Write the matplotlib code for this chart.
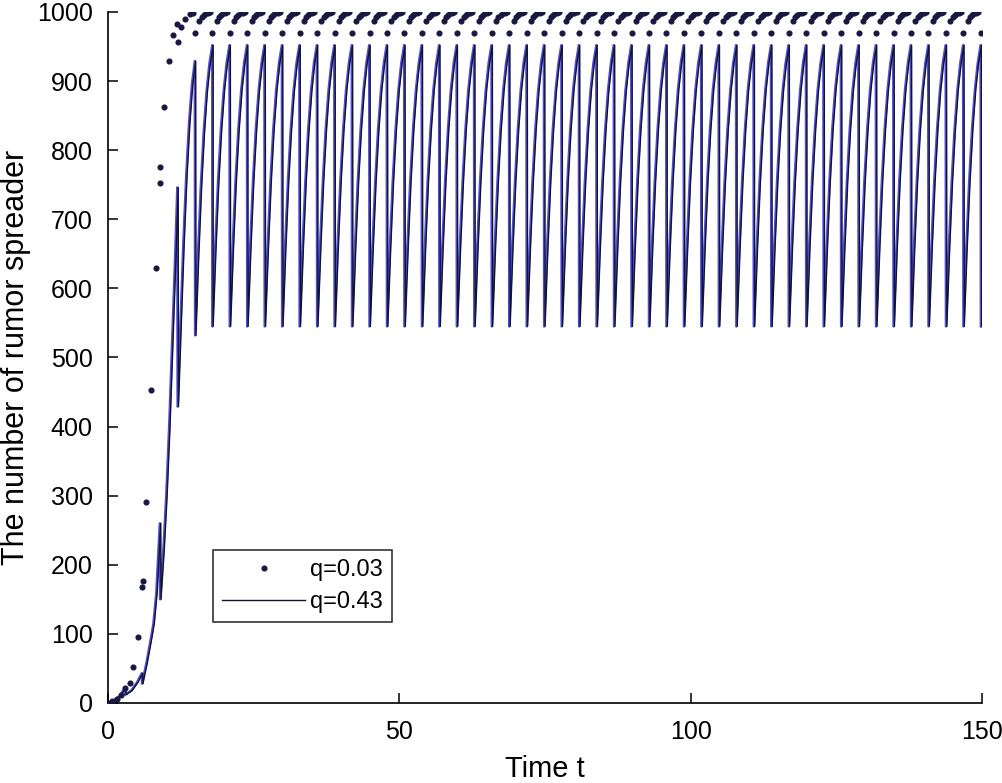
import numpy as np
import matplotlib
matplotlib.use("Agg")
import matplotlib.pyplot as plt
from matplotlib import font_manager

# ---------------- data ----------------
# q = 0.43 : early growth phase (time, value), including impulsive drops
line_early_t = [0.0, 1.0, 2.0, 2.9, 2.95, 4.0, 5.0, 5.8, 5.85, 6.6, 7.4, 7.8, 8.3, 8.6, 8.9, 8.95,
                9.5, 10.0, 10.5, 11.0, 11.5, 11.9]
line_early_v = [0, 4, 10, 22, 12, 18, 30, 43, 28, 58, 95, 115, 160, 210, 260, 150,
                220, 300, 400, 520, 640, 746]
# teeth of the sawtooth: start time, values every 0.5 time units
tooth_start = [11.95, 14.95]
tooth_values = [[429, 550, 665, 763, 840, 895, 929],
                [532, 648, 748, 826, 885, 925, 952]]
steady_profile = [545, 657, 754, 830, 887, 926, 952]   # every later tooth
steady_first_start = 17.9
period = 2.998
n_steady = 44
profile_dt = 0.5

# q = 0.03 : early dots
dot_early_t = [0.0, 0.75, 1.5, 2.2, 2.9, 3.7, 4.35, 5.15, 5.88, 5.95, 6.6, 7.4, 8.2, 8.9, 8.92,
               9.6, 10.5, 11.1, 11.8, 11.96, 12.6, 13.2, 14.1, 14.6]
dot_early_v = [0, 3, 6, 12, 22, 29, 52, 95, 168, 176, 291, 453, 629, 753, 776,
               863, 929, 967, 983, 956, 979, 990, 997, 999]
# steady dot pattern after each impulse (offset, value)
dot_offsets = [0.0, 0.75, 1.15, 1.5, 1.85, 2.2, 2.55]
dot_values = [970, 987, 993, 996, 998, 999, 1000]
dot_first_start = 14.9

labels = ["q=0.03", "q=0.43"]
xticks = [0, 50, 100, 150]
yticks = list(range(0, 1001, 100))

# ---------------- assemble series ----------------
lt = list(line_early_t)
lv = list(line_early_v)
for s, vals in zip(tooth_start, tooth_values):
    for i, v in enumerate(vals):
        lt.append(s + i * profile_dt * (2.95 / 3.0))
        lv.append(v)
for k in range(n_steady + 1):
    s = steady_first_start + k * period
    for i, v in enumerate(steady_profile):
        t = s + i * profile_dt * (2.95 / 3.0)
        if t > 150.0:
            break
        lt.append(t)
        lv.append(v)

dt_ = list(dot_early_t)
dv_ = list(dot_early_v)
k = 0
while True:
    s = dot_first_start + k * period
    if s > 150:
        break
    for o, v in zip(dot_offsets, dot_values):
        if s + o <= 150:
            dt_.append(s + o)
            dv_.append(v)
    k += 1

# ---------------- fonts ----------------
avail = {f.name for f in font_manager.fontManager.ttflist}
base = "Liberation Sans" if "Liberation Sans" in avail else "DejaVu Sans"
plt.rcParams["font.family"] = [base, "DejaVu Sans"]

fig = plt.figure(figsize=(10.03, 7.83), dpi=100)
ax = fig.add_axes([108 / 1003, 80 / 783, (982 - 108) / 1003, (703 - 12) / 783])

ax.plot(lt, lv, color="#4c4ce0", lw=1.8, zorder=2)
ax.plot(np.array(lt) + 0.15, lv, color="#141428", lw=1.0, zorder=3, label=labels[1])
ax.plot(dt_, dv_, linestyle="none", marker="o", ms=3.4, color="#181840",
        zorder=4, label=labels[0])

ax.set_xlim(0, 150)
ax.set_ylim(0, 1000)
ax.set_xticks(xticks)
ax.set_yticks(yticks)
for sp in ["top", "right"]:
    ax.spines[sp].set_visible(False)
for sp in ["left", "bottom"]:
    ax.spines[sp].set_linewidth(1.2)
ax.tick_params(direction="in", length=7, width=1.1, labelsize=18, pad=11)
ax.tick_params(axis="x", pad=12)

ax.set_xlabel("Time t", fontsize=21, labelpad=8)
ax.set_ylabel("The number of rumor spreader", fontsize=22)
ax.yaxis.set_label_coords(-0.088, 0.5)

h, l = ax.get_legend_handles_labels()
leg = ax.legend([h[1], h[0]], [l[1], l[0]], loc="upper left",
                bbox_to_anchor=((213 - 108) / 874, (703 - 550) / 691),
                borderaxespad=0, frameon=True, fancybox=False, edgecolor="black",
                fontsize=17, handlelength=3.5, handletextpad=0.2, borderpad=0.4,
                labelspacing=0.4, markerscale=1.0)
leg.get_frame().set_linewidth(1.2)

fig.savefig("out.png", dpi=100)
